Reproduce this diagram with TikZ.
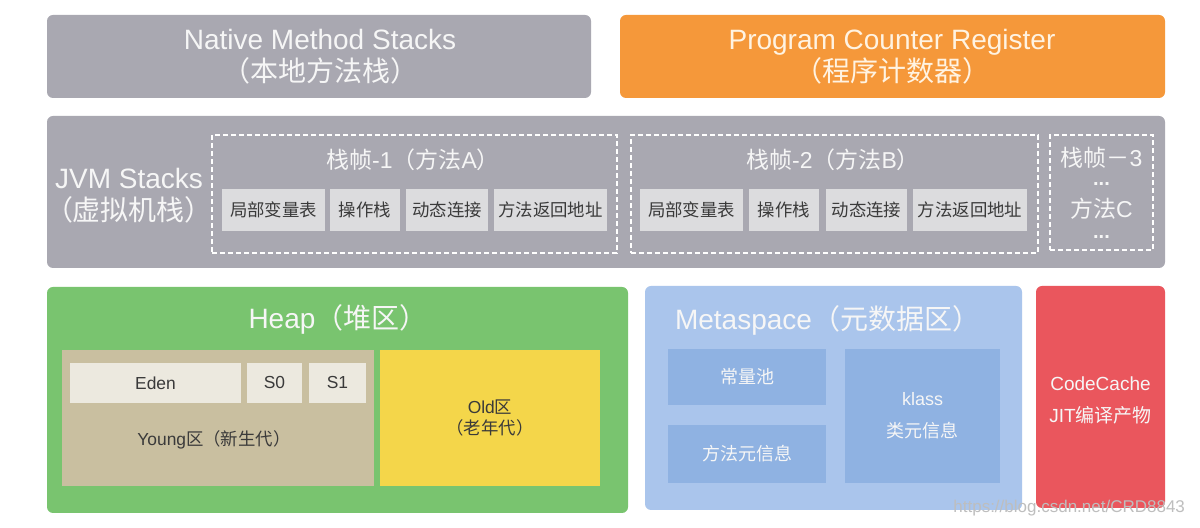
\documentclass[tikz,border=0pt]{standalone}
\usepackage{fontspec}
\setmainfont{Liberation Sans}
\newfontfamily\cjk{Noto Sans CJK SC}
\newcommand{\zh}[1]{{\cjk #1}}
\definecolor{gbox}{HTML}{A9A8B1}
\definecolor{obox}{HTML}{F5983A}
\definecolor{cell}{HTML}{DCDCDE}
\definecolor{celltxt}{HTML}{3A3A3A}
\definecolor{heapg}{HTML}{79C46F}
\definecolor{youngc}{HTML}{C9BFA0}
\definecolor{edenc}{HTML}{ECE9DF}
\definecolor{oldc}{HTML}{F4D64A}
\definecolor{metac}{HTML}{AAC5EC}
\definecolor{metain}{HTML}{8FB2E2}
\definecolor{codec}{HTML}{EA565D}
\definecolor{wtxt}{HTML}{F6F6F6}
\definecolor{pctxt}{HTML}{FFF3E2}
\definecolor{wm}{HTML}{BEBEBE}
\tikzset{
  sz/.style 2 args={minimum width=#1*0.5pt, minimum height=#2*0.5pt, inner sep=0pt},
  region/.style={rounded corners=3pt, draw=none},
  bigtxt/.style={font=\fontsize{14}{16}\selectfont, text=wtxt, align=center},
  frametxt/.style={font=\fontsize{11.5}{12}\selectfont, text=wtxt, align=center, inner sep=0pt},
  dots/.style={font=\bfseries\fontsize{10}{10}\selectfont, text=wtxt, inner sep=0pt},
  frame/.style={draw=white, dashed, dash pattern=on 2.5pt off 1.5pt, line width=0.7pt},
  cellbox/.style={fill=cell, font=\fontsize{8.7}{10}\selectfont, text=celltxt},
  smalltxt/.style={font=\fontsize{8.7}{10}\selectfont, align=center},
  metabox/.style={fill=metain, font=\fontsize{9}{10}\selectfont, text=wtxt, align=center},
}
\begin{document}
\begin{tikzpicture}[x=0.5pt,y=-0.5pt]
\useasboundingbox[fill=white] (0,0) rectangle (1200,528);
% top row
\node[region, fill=gbox, sz={544}{83}] (native) at (319,56.5) {};
\node[bigtxt] (nativet) at (320,57) {Native Method Stacks\\\zh{（本地方法栈）}};
\node[region, fill=obox, sz={545}{83}] (pc) at (892.5,56.5) {};
\node[bigtxt, text=pctxt] (pct) at (892,57) {Program Counter Register\\\zh{（程序计数器）}};
% JVM stacks
\node[region, fill=gbox, sz={1118}{152}] (jvm) at (606,192) {};
\node[bigtxt] (jvmt) at (129,196) {JVM Stacks\\\zh{（虚拟机栈）}};
\node[frame, sz={405}{118}] (f1) at (414.5,194) {};
\node[frametxt] (f1t) at (413,160) {\zh{栈帧}-1\zh{（方法}A\zh{）}};
\node[cellbox, sz={103}{42}] (c11) at (273.5,210) {\zh{局部变量表}};
\node[cellbox, sz={70}{42}] (c12) at (365,210) {\zh{操作栈}};
\node[cellbox, sz={82}{42}] (c13) at (447,210) {\zh{动态连接}};
\node[cellbox, sz={113}{42}] (c14) at (550.5,210) {\zh{方法返回地址}};
\node[frame, sz={407}{118}] (f2) at (834.5,194) {};
\node[frametxt] (f2t) at (833,160) {\zh{栈帧}-2\zh{（方法}B\zh{）}};
\node[cellbox, sz={103}{42}] (c21) at (691.5,210) {\zh{局部变量表}};
\node[cellbox, sz={70}{42}] (c22) at (784,210) {\zh{操作栈}};
\node[cellbox, sz={81}{42}] (c23) at (866.5,210) {\zh{动态连接}};
\node[cellbox, sz={114}{42}] (c24) at (970,210) {\zh{方法返回地址}};
\node[frame, sz={103}{115}] (f3) at (1101.5,192.5) {};
\node[frametxt] (f3a) at (1101.5,158) {\zh{栈帧－}3};
\node[dots] (f3b) at (1101.5,184) {...};
\node[frametxt] (f3c) at (1101.5,209) {\zh{方法}C};
\node[dots] (f3d) at (1101.5,237) {...};
% heap
\node[region, fill=heapg, sz={581}{226}] (heap) at (337.5,400) {};
\node[bigtxt] (heapt) at (338,319) {Heap\zh{（堆区）}};
\node[fill=youngc, sz={312}{136}] (young) at (218,418) {};
\node[fill=edenc, sz={171}{40}, smalltxt, text=celltxt] (eden) at (155.5,383) {Eden};
\node[fill=edenc, sz={55}{40}, smalltxt, text=celltxt] (s0) at (274.5,383) {S0};
\node[fill=edenc, sz={57}{40}, smalltxt, text=celltxt] (s1) at (337.5,383) {S1};
\node[smalltxt, text=celltxt] (youngt) at (214,440) {Young\zh{区（新生代）}};
\node[fill=oldc, sz={220}{136}] (old) at (490,418) {};
\node[smalltxt, text=celltxt, font=\fontsize{8.7}{10.5}\selectfont] (oldt) at (490,418) {Old\zh{区}\\\zh{（老年代）}};
% metaspace
\node[region, fill=metac, sz={377}{224}] (meta) at (833.5,398) {};
\node[bigtxt, anchor=west] (metat) at (668,320) {Metaspace\zh{（元数据区）}};
\node[metabox, sz={158}{56}] (pool) at (747,377) {\zh{常量池}};
\node[metabox, sz={158}{58}] (mmeta) at (747,454) {\zh{方法元信息}};
\node[metabox, sz={155}{134}] (klass) at (922.5,416) {klass\\[6pt]\zh{类元信息}};
% code cache
\node[region, fill=codec, sz={129}{222}] (code) at (1100.5,397) {};
\node[font=\fontsize{9.5}{16}\selectfont, text=wtxt, align=center] (codet) at (1100.5,400) {CodeCache\\JIT\zh{编译产物}};
% watermark
\node[font=\fontsize{8.5}{10}\selectfont, text=wm, anchor=east] (wmark) at (1192,508) {https://blog.csdn.net/CRD8843};
\end{tikzpicture}
\end{document}
